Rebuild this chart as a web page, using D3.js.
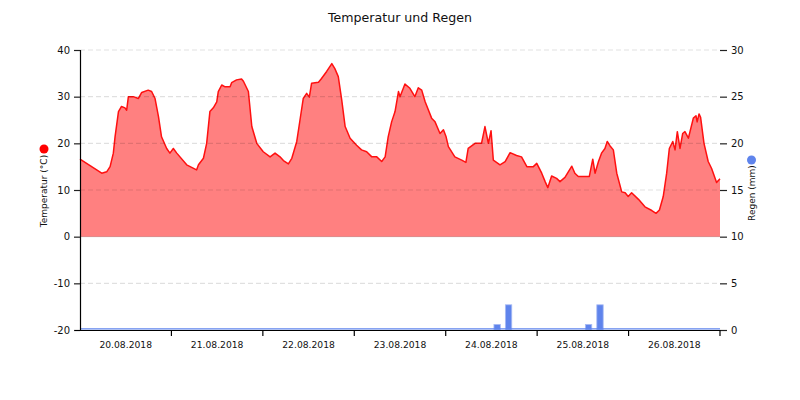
<!DOCTYPE html>
<html>
<head>
<meta charset="utf-8">
<script src="https://cdn.jsdelivr.net/npm/d3@7/dist/d3.min.js"></script>
<style>
  html, body { margin: 0; padding: 0; background: #fff; }
  svg { display: block; font-family: "DejaVu Sans", Verdana, sans-serif; }
</style>
</head>
<body>
<svg id="chart" width="800" height="400"></svg>
<script>
// ---- data ----
const title = "Temperatur und Regen";
const leftLabel = "Temperatur (°C)";
const rightLabel = "Regen (mm)";
const startDate = new Date(2018, 7, 20, 0, 0);
const endDate = new Date(2018, 7, 27, 0, 0);
// hours since 20.08.2018 00:00
const tempHours = [0, 5.7, 7.0, 7.9, 8.75, 9.2, 10.1, 10.9, 11.8, 12.25, 12.7, 14.0, 15.3, 16.2, 17.9, 18.8, 19.7, 20.6, 21.4, 22.75, 23.6, 24.5, 25.4, 28.0, 30.6, 31.1, 32.4, 33.25, 34.1, 35.0, 35.9, 36.3, 37.2, 38.1, 39.4, 39.8, 41.1, 42.4, 42.9, 44.2, 45.1, 46.4, 48.1, 49.9, 51.2, 52.5, 53.4, 54.7, 55.6, 56.9, 57.75, 58.6, 59.5, 60.2, 60.8, 62.6, 63.4, 64.75, 66.1, 66.9, 67.8, 68.7, 69.6, 70.9, 72.6, 73.9, 75.25, 76.6, 77.9, 79.2, 80.1, 80.9, 81.8, 82.7, 83.6, 84.0, 85.3, 86.6, 87.9, 88.8, 89.7, 90.6, 92.3, 93.2, 94.5, 95.4, 96.1, 96.7, 98.4, 100.2, 101.3, 101.9, 103.7, 105.4, 106.3, 107.2, 107.9, 108.5, 110.25, 111.6, 112.9, 114.6, 115.9, 117.3, 119.0, 119.9, 121.2, 122.1, 122.8, 123.8, 125.1, 126.0, 127.3, 129.1, 129.9, 130.8, 132.6, 133.7, 134.6, 135.2, 136.1, 136.9, 137.8, 138.4, 139.1, 140.0, 140.9, 142.2, 143.1, 143.9, 144.8, 146.6, 148.3, 150.1, 151.2, 152.1, 153.1, 154.0, 154.7, 155.6, 156.2, 156.8, 157.5, 158.2, 158.8, 159.7, 161.0, 161.7, 162.0, 162.5, 162.9, 163.8, 164.9, 165.8, 167.1, 168.0];
const temps = [16.6, 13.6, 13.9, 15.0, 17.9, 21.4, 26.8, 27.9, 27.6, 27.1, 30.0, 30.0, 29.6, 30.9, 31.4, 31.1, 29.6, 25.7, 21.4, 18.9, 17.9, 18.9, 17.9, 15.4, 14.3, 15.4, 16.8, 20.0, 26.8, 27.6, 28.9, 31.1, 32.5, 32.1, 32.1, 33.0, 33.6, 33.8, 33.3, 31.1, 23.6, 20.0, 18.2, 17.1, 17.9, 17.1, 16.3, 15.6, 16.8, 20.4, 25.0, 29.6, 30.7, 29.9, 32.9, 33.1, 33.9, 35.4, 37.1, 36.0, 34.3, 29.3, 23.6, 21.1, 19.6, 18.6, 18.2, 17.1, 17.1, 16.1, 17.1, 21.4, 24.6, 26.8, 31.1, 30.0, 32.7, 31.8, 30.0, 31.9, 31.4, 28.9, 25.4, 24.6, 22.1, 22.9, 21.4, 19.3, 17.1, 16.4, 15.9, 18.9, 20.0, 20.0, 23.6, 20.0, 22.7, 16.4, 15.4, 16.1, 18.0, 17.4, 17.1, 15.0, 15.0, 15.7, 13.6, 11.8, 10.5, 13.0, 12.5, 11.8, 12.7, 15.1, 13.6, 12.9, 12.9, 12.9, 16.6, 13.6, 16.1, 17.9, 18.9, 20.4, 19.5, 18.6, 13.6, 9.6, 9.4, 8.6, 9.4, 8.0, 6.4, 5.6, 5.0, 5.7, 8.6, 13.6, 18.9, 20.4, 18.6, 22.5, 18.9, 22.1, 22.5, 21.1, 25.4, 25.9, 24.6, 26.3, 25.6, 20.0, 16.1, 14.6, 11.6, 12.4];
// rain, 3-hour buckets (start hour since 20.08.2018 00:00)
const rainHours = [108, 111, 132, 135];
const rainMM = [0.6, 2.7, 0.6, 2.7];
const leftTicks = [-20, -10, 0, 10, 20, 30, 40];
const rightTicks = [0, 5, 10, 15, 20, 25, 30];

// ---- layout ----
const svg = d3.select("#chart");
const L = 80, R = 720, T = 50, B = 330;
const H = 3600 * 1000;
const toDate = h => new Date(startDate.getTime() + h * H);

const x = d3.scaleTime().domain([startDate, endDate]).range([L, R]);
const yT = d3.scaleLinear().domain([-20, 40]).range([B, T]);
const yR = d3.scaleLinear().domain([0, 30]).range([B, T]);

const tempData = tempHours.map((h, i) => ({ t: toDate(h), v: temps[i] }));
const rainData = rainHours.map((h, i) => ({ t0: toDate(h), t1: toDate(h + 3), v: rainMM[i] }));

// title
svg.append("text").attr("x", 400).attr("y", 22).attr("text-anchor", "middle")
  .style("font-size", "12.6px").style("fill", "#111").text(title);

// area + line
svg.append("path").datum(tempData)
  .attr("d", d3.area().x(d => x(d.t)).y0(yT(0)).y1(d => yT(d.v)))
  .attr("fill", "#ff8080");
svg.append("path").datum(tempData)
  .attr("d", d3.line().x(d => x(d.t)).y(d => yT(d.v)))
  .attr("fill", "none").attr("stroke", "#ff1010").attr("stroke-width", 1.5)
  .attr("stroke-linejoin", "round");

// grid lines (dashed)
const grid = svg.append("g");
leftTicks.filter(v => v !== -20).forEach(v => {
  grid.append("line").attr("x1", L).attr("x2", R)
    .attr("y1", yT(v)).attr("y2", yT(v))
    .attr("stroke", "rgba(0,0,0,0.12)").attr("stroke-width", 1.2)
    .attr("stroke-dasharray", v === 0 ? null : "5,3");
});

// rain bars
const bw = (x(toDate(3)) - x(toDate(0)));
svg.append("g").selectAll("rect").data(rainData).join("rect")
  .attr("x", d => (x(d.t0) + x(d.t1)) / 2 - bw * 0.28)
  .attr("width", bw * 0.56)
  .attr("y", d => yR(d.v))
  .attr("height", d => yR(0) - yR(d.v))
  .attr("fill", "#5f84ec").attr("stroke", "#a9bcf4").attr("stroke-width", 0.8);
// zero rain baseline
svg.append("line").attr("x1", L).attr("x2", R).attr("y1", yR(0) - 1.2).attr("y2", yR(0) - 1.2)
  .attr("stroke", "#5f84ec").attr("stroke-width", 1.3);

// left axis
const gL = svg.append("g").attr("transform", `translate(${L},0)`)
  .call(d3.axisLeft(yT).tickValues(leftTicks).tickSize(6).tickPadding(4).tickFormat(d => String(d)));
gL.select(".domain").attr("stroke", "#000").attr("stroke-width", 1.2);
gL.selectAll(".tick line").attr("stroke", "#222").attr("stroke-width", 1.2);
gL.selectAll(".tick text").style("font-size", "10px").style("font-family", "DejaVu Sans").attr("fill", "#111");

// right axis (no domain line)
const gR = svg.append("g").attr("transform", `translate(${R},0)`)
  .call(d3.axisRight(yR).tickValues(rightTicks).tickSize(7).tickPadding(4).tickFormat(d => String(d)));
gR.select(".domain").remove();
gR.selectAll(".tick line").attr("stroke", "#222").attr("stroke-width", 1.2);
gR.selectAll(".tick text").style("font-size", "10px").style("font-family", "DejaVu Sans").attr("fill", "#111");

// bottom axis
const days = d3.timeDay.range(startDate, endDate);
const gB = svg.append("g").attr("transform", `translate(0,${B})`);
gB.append("line").attr("x1", L - 5).attr("x2", R).attr("y1", 0.5).attr("y2", 0.5)
  .attr("stroke", "#000").attr("stroke-width", 1.2);
gB.selectAll("line.tk").data(d3.timeDay.range(d3.timeDay.offset(startDate, 1), d3.timeDay.offset(endDate, 1)))
  .join("line").attr("class", "tk")
  .attr("x1", d => x(d)).attr("x2", d => x(d)).attr("y1", 0).attr("y2", 6)
  .attr("stroke", "#000").attr("stroke-width", 1.2);
const fmt = d3.timeFormat("%d.%m.%Y");
gB.selectAll("text").data(days).join("text")
  .attr("x", d => x(d3.timeHour.offset(d, 12)))
  .attr("y", 18).attr("text-anchor", "middle")
  .style("font-size", "9.2px").attr("fill", "#111")
  .text(d => fmt(d));

// axis titles with legend dots
svg.append("circle").attr("cx", 44).attr("cy", 149).attr("r", 4.5).attr("fill", "#ff0000");
svg.append("text").attr("transform", "translate(47,191) rotate(-90)")
  .attr("text-anchor", "middle").style("font-size", "9px").attr("fill", "#111").text(leftLabel);
svg.append("circle").attr("cx", 751.5).attr("cy", 160).attr("r", 4.5).attr("fill", "#5f84ec");
svg.append("text").attr("transform", "translate(755,193) rotate(-90)")
  .attr("text-anchor", "middle").style("font-size", "9px").attr("fill", "#111").text(rightLabel);
</script>
</body>
</html>
